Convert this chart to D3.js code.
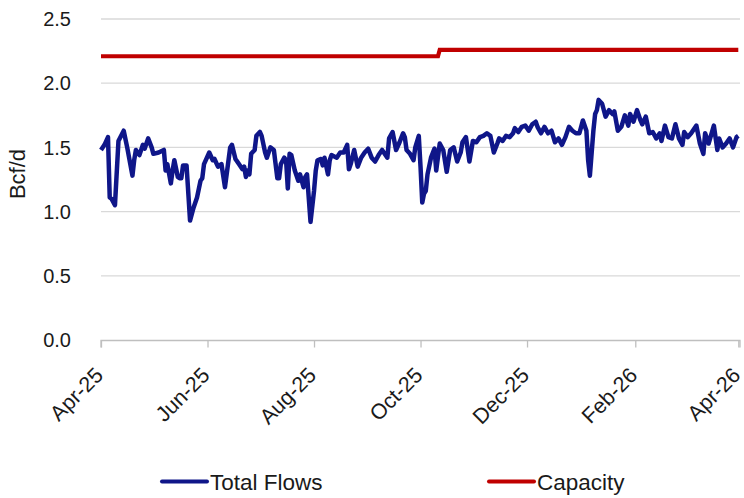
<!DOCTYPE html>
<html>
<head>
<meta charset="utf-8">
<script src="https://cdn.jsdelivr.net/npm/d3@7"></script>
<style>
  body { margin: 0; background: #fff; }
  svg { font-family: "Liberation Sans", Arial, sans-serif; }
</style>
</head>
<body>
<svg id="chart" width="744" height="498"></svg>
<script>
// daily total flows (days since 2025-04-01)
var flowDay = [0,2,4,5,6,8,10,13,15,18,19,20,22,24,25,27,29,30,33,36,37,38,40,41,42,44,45,46,47,49,
  51,53,55,57,58,59,62,64,65,67,69,71,74,75,77,79,81,82,83,84,85,86,88,89,91,92,94,95,97,99,
  101,102,103,105,106,107,108,109,111,113,114,116,117,118,120,122,123,124,126,127,128,130,131,132,135,137,139,
  141,142,143,145,147,149,151,153,155,157,159,161,164,165,167,169,171,173,174,175,177,179,180,182,183,184,185,186,187,189,
  191,192,194,196,198,200,202,204,206,207,209,211,213,215,217,219,221,223,225,227,228,230,232,234,236,237,239,
  241,243,245,247,249,250,252,254,256,258,260,262,264,266,268,270,272,274,276,278,279,280,282,283,284,285,287,289,
  291,293,294,296,298,300,302,303,305,307,309,310,312,314,316,318,320,321,323,325,327,329,331,333,334,336,338,
  341,343,345,346,348,351,353,354,356,358,360,362,364,365];
var flowVal = [1.48,1.52,1.58,1.11,1.10,1.05,1.55,1.63,1.50,1.28,1.40,1.48,1.44,1.52,1.49,1.57,1.50,1.45,1.46,1.48,1.32,1.37,1.22,1.32,1.40,1.27,1.26,1.26,1.36,1.36,
  0.93,1.03,1.11,1.24,1.26,1.37,1.46,1.40,1.41,1.35,1.37,1.19,1.50,1.52,1.41,1.37,1.33,1.35,1.27,1.32,1.29,1.45,1.48,1.59,1.62,1.59,1.46,1.42,1.50,1.48,
  1.26,1.26,1.37,1.42,1.40,1.18,1.45,1.44,1.32,1.24,1.29,1.19,1.27,1.29,0.92,1.16,1.32,1.40,1.41,1.36,1.42,1.29,1.40,1.44,1.42,1.46,1.46,
  1.52,1.33,1.37,1.48,1.35,1.42,1.46,1.49,1.42,1.39,1.44,1.48,1.42,1.57,1.62,1.48,1.54,1.61,1.58,1.48,1.45,1.40,1.50,1.59,1.35,1.07,1.14,1.16,1.29,1.42,
  1.49,1.32,1.53,1.48,1.31,1.48,1.50,1.39,1.46,1.54,1.58,1.39,1.55,1.54,1.58,1.59,1.61,1.59,1.46,1.53,1.57,1.55,1.59,1.58,1.61,1.65,1.62,
  1.66,1.67,1.63,1.68,1.70,1.66,1.61,1.66,1.61,1.63,1.54,1.57,1.52,1.58,1.66,1.63,1.61,1.61,1.71,1.63,1.40,1.28,1.63,1.76,1.79,1.87,1.84,1.74,
  1.79,1.76,1.78,1.63,1.66,1.75,1.67,1.76,1.70,1.79,1.71,1.68,1.74,1.61,1.62,1.57,1.61,1.55,1.67,1.58,1.57,1.68,1.57,1.52,1.62,1.58,1.61,
  1.67,1.53,1.45,1.61,1.53,1.67,1.48,1.57,1.50,1.53,1.57,1.50,1.58,1.59];

var capDates = ['2025-04-01', '2025-10-11', '2025-10-12', '2026-04-01'];
var capVal = [2.21, 2.21, 2.26, 2.26];

var yTicks = [0, 0.5, 1.0, 1.5, 2.0, 2.5];
var xTickDates = ['2025-04-01','2025-06-01','2025-08-01','2025-10-01','2025-12-01','2026-02-01','2026-04-01'];

var parse = d3.timeParse('%Y-%m-%d');
var start = parse('2025-04-01');

var flows = flowDay.map(function(d, i) {
  return { date: d3.timeDay.offset(start, d), value: flowVal[i] };
});
var capacity = capDates.map(function(d, i) {
  return { date: parse(d), value: capVal[i] };
});

var svg = d3.select('#chart');

var x = d3.scaleTime()
  .domain([start, parse('2026-04-01')])
  .range([101, 738.3]);
var y = d3.scaleLinear()
  .domain([0, 2.5])
  .range([340, 19]);

// gridlines
svg.append('g')
  .selectAll('line')
  .data(yTicks.slice(1))
  .enter()
  .append('line')
  .attr('x1', 101)
  .attr('x2', 740)
  .attr('y1', function(d) { return y(d); })
  .attr('y2', function(d) { return y(d); })
  .attr('stroke', '#d9d9d9')
  .attr('stroke-width', 1.3);

// y axis labels
svg.append('g')
  .selectAll('text')
  .data(yTicks)
  .enter()
  .append('text')
  .attr('x', 71)
  .attr('y', function(d) { return y(d); })
  .attr('dy', '0.36em')
  .attr('text-anchor', 'end')
  .attr('font-size', '20px')
  .attr('fill', '#1a1a1a')
  .text(function(d) { return d3.format('.1f')(d); });

svg.append('text')
  .attr('transform', 'translate(25,174) rotate(-90)')
  .attr('text-anchor', 'middle')
  .attr('font-size', '22px')
  .attr('fill', '#1a1a1a')
  .text('Bcf/d');

// x axis
var xAxis = d3.axisBottom(x)
  .tickValues(xTickDates.map(parse))
  .tickSize(7)
  .tickFormat(d3.timeFormat('%b-%y'));

var gx = svg.append('g')
  .attr('transform', 'translate(0,340.5)')
  .call(xAxis);
gx.select('.domain').attr('stroke', '#bfbfbf').attr('stroke-width', 1.3)
  .attr('d', 'M101,7V0H740V7');
gx.selectAll('.tick line').attr('stroke', '#bfbfbf').attr('stroke-width', 1.3);
gx.selectAll('.tick text')
  .attr('font-size', '21.5px')
  .attr('font-family', '"Liberation Sans", Arial, sans-serif')
  .attr('fill', '#1a1a1a')
  .attr('text-anchor', 'end')
  .attr('y', 0)
  .attr('dy', 0)
  .attr('transform', 'translate(3,36) rotate(-45)');

// lines
var line = d3.line()
  .x(function(d) { return x(d.date); })
  .y(function(d) { return y(d.value); });

svg.append('path')
  .datum(capacity)
  .attr('d', line)
  .attr('fill', 'none')
  .attr('stroke', '#c00000')
  .attr('stroke-width', 4.2);

svg.append('path')
  .datum(flows)
  .attr('d', line)
  .attr('fill', 'none')
  .attr('stroke', '#0f1689')
  .attr('stroke-width', 4.5)
  .attr('stroke-linejoin', 'round');

// legend
var legend = [
  { name: 'Total Flows', color: '#0f1689', x: 162 },
  { name: 'Capacity', color: '#c00000', x: 489 }
];
var lg = svg.append('g')
  .selectAll('g')
  .data(legend)
  .enter()
  .append('g')
  .attr('transform', function(d) { return 'translate(' + d.x + ',481.5)'; });
lg.append('line')
  .attr('x1', 0).attr('x2', 45)
  .attr('stroke', function(d) { return d.color; })
  .attr('stroke-width', 4)
  .attr('stroke-linecap', 'round');
lg.append('text')
  .attr('x', 48)
  .attr('dy', '0.36em')
  .attr('font-size', '22.5px')
  .attr('fill', '#1a1a1a')
  .text(function(d) { return d.name; });
</script>
</body>
</html>
